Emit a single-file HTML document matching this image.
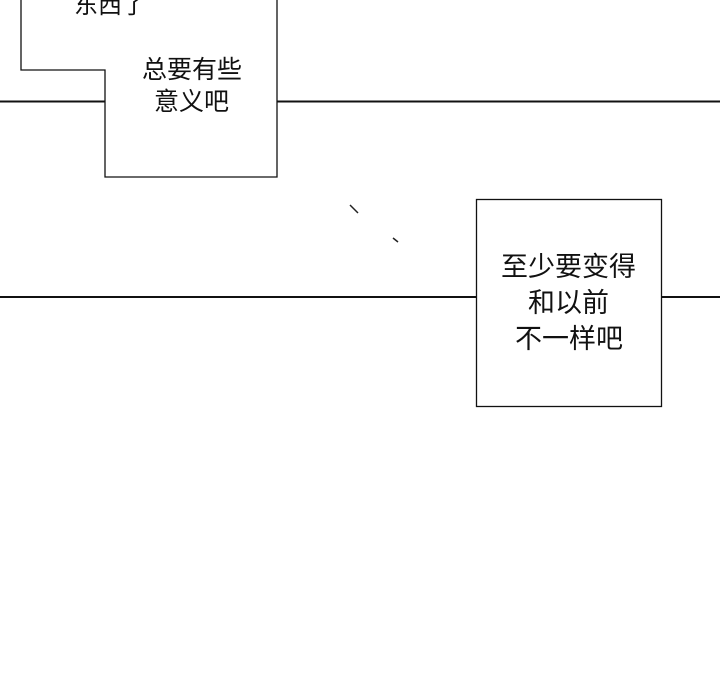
<!DOCTYPE html>
<html><head><meta charset="utf-8"><style>
html,body{margin:0;padding:0;background:#fff;width:720px;height:700px;overflow:hidden;position:relative}
.t{position:absolute;font-family:"Liberation Sans","Noto Sans CJK SC",sans-serif;color:#111;white-space:nowrap;line-height:1}
</style></head><body>
<svg width="720" height="700" style="position:absolute;left:0;top:0">
<g stroke="#111" stroke-width="1.3" fill="none">
<polyline points="21,0 21,70 105,70 105,177 277,177 277,0"/>
<rect x="476.5" y="199.5" width="185" height="207"/>
</g>
<g stroke="#111" stroke-width="2">
<line x1="0" y1="101.5" x2="105" y2="101.5"/>
<line x1="277" y1="101.5" x2="720" y2="101.5"/>
<line x1="0" y1="297" x2="476" y2="297"/>
<line x1="661" y1="297" x2="720" y2="297"/>
</g>
<g stroke="#222" stroke-width="1.5">
<line x1="350" y1="205" x2="358" y2="213"/>
<line x1="393" y1="238" x2="398" y2="242"/>
</g>
</svg>
<div class="t" style="left:74px;top:-6px;font-size:24px">东西了</div>
<div class="t" style="left:142px;top:58px;font-size:25px">总要有些</div>
<div class="t" style="left:154px;top:90px;font-size:25px">意义吧</div>
<div class="t" style="left:501px;top:254px;font-size:27px">至少要变得</div>
<div class="t" style="left:528px;top:290px;font-size:27px">和以前</div>
<div class="t" style="left:515px;top:326px;font-size:27px">不一样吧</div>
</body></html>
